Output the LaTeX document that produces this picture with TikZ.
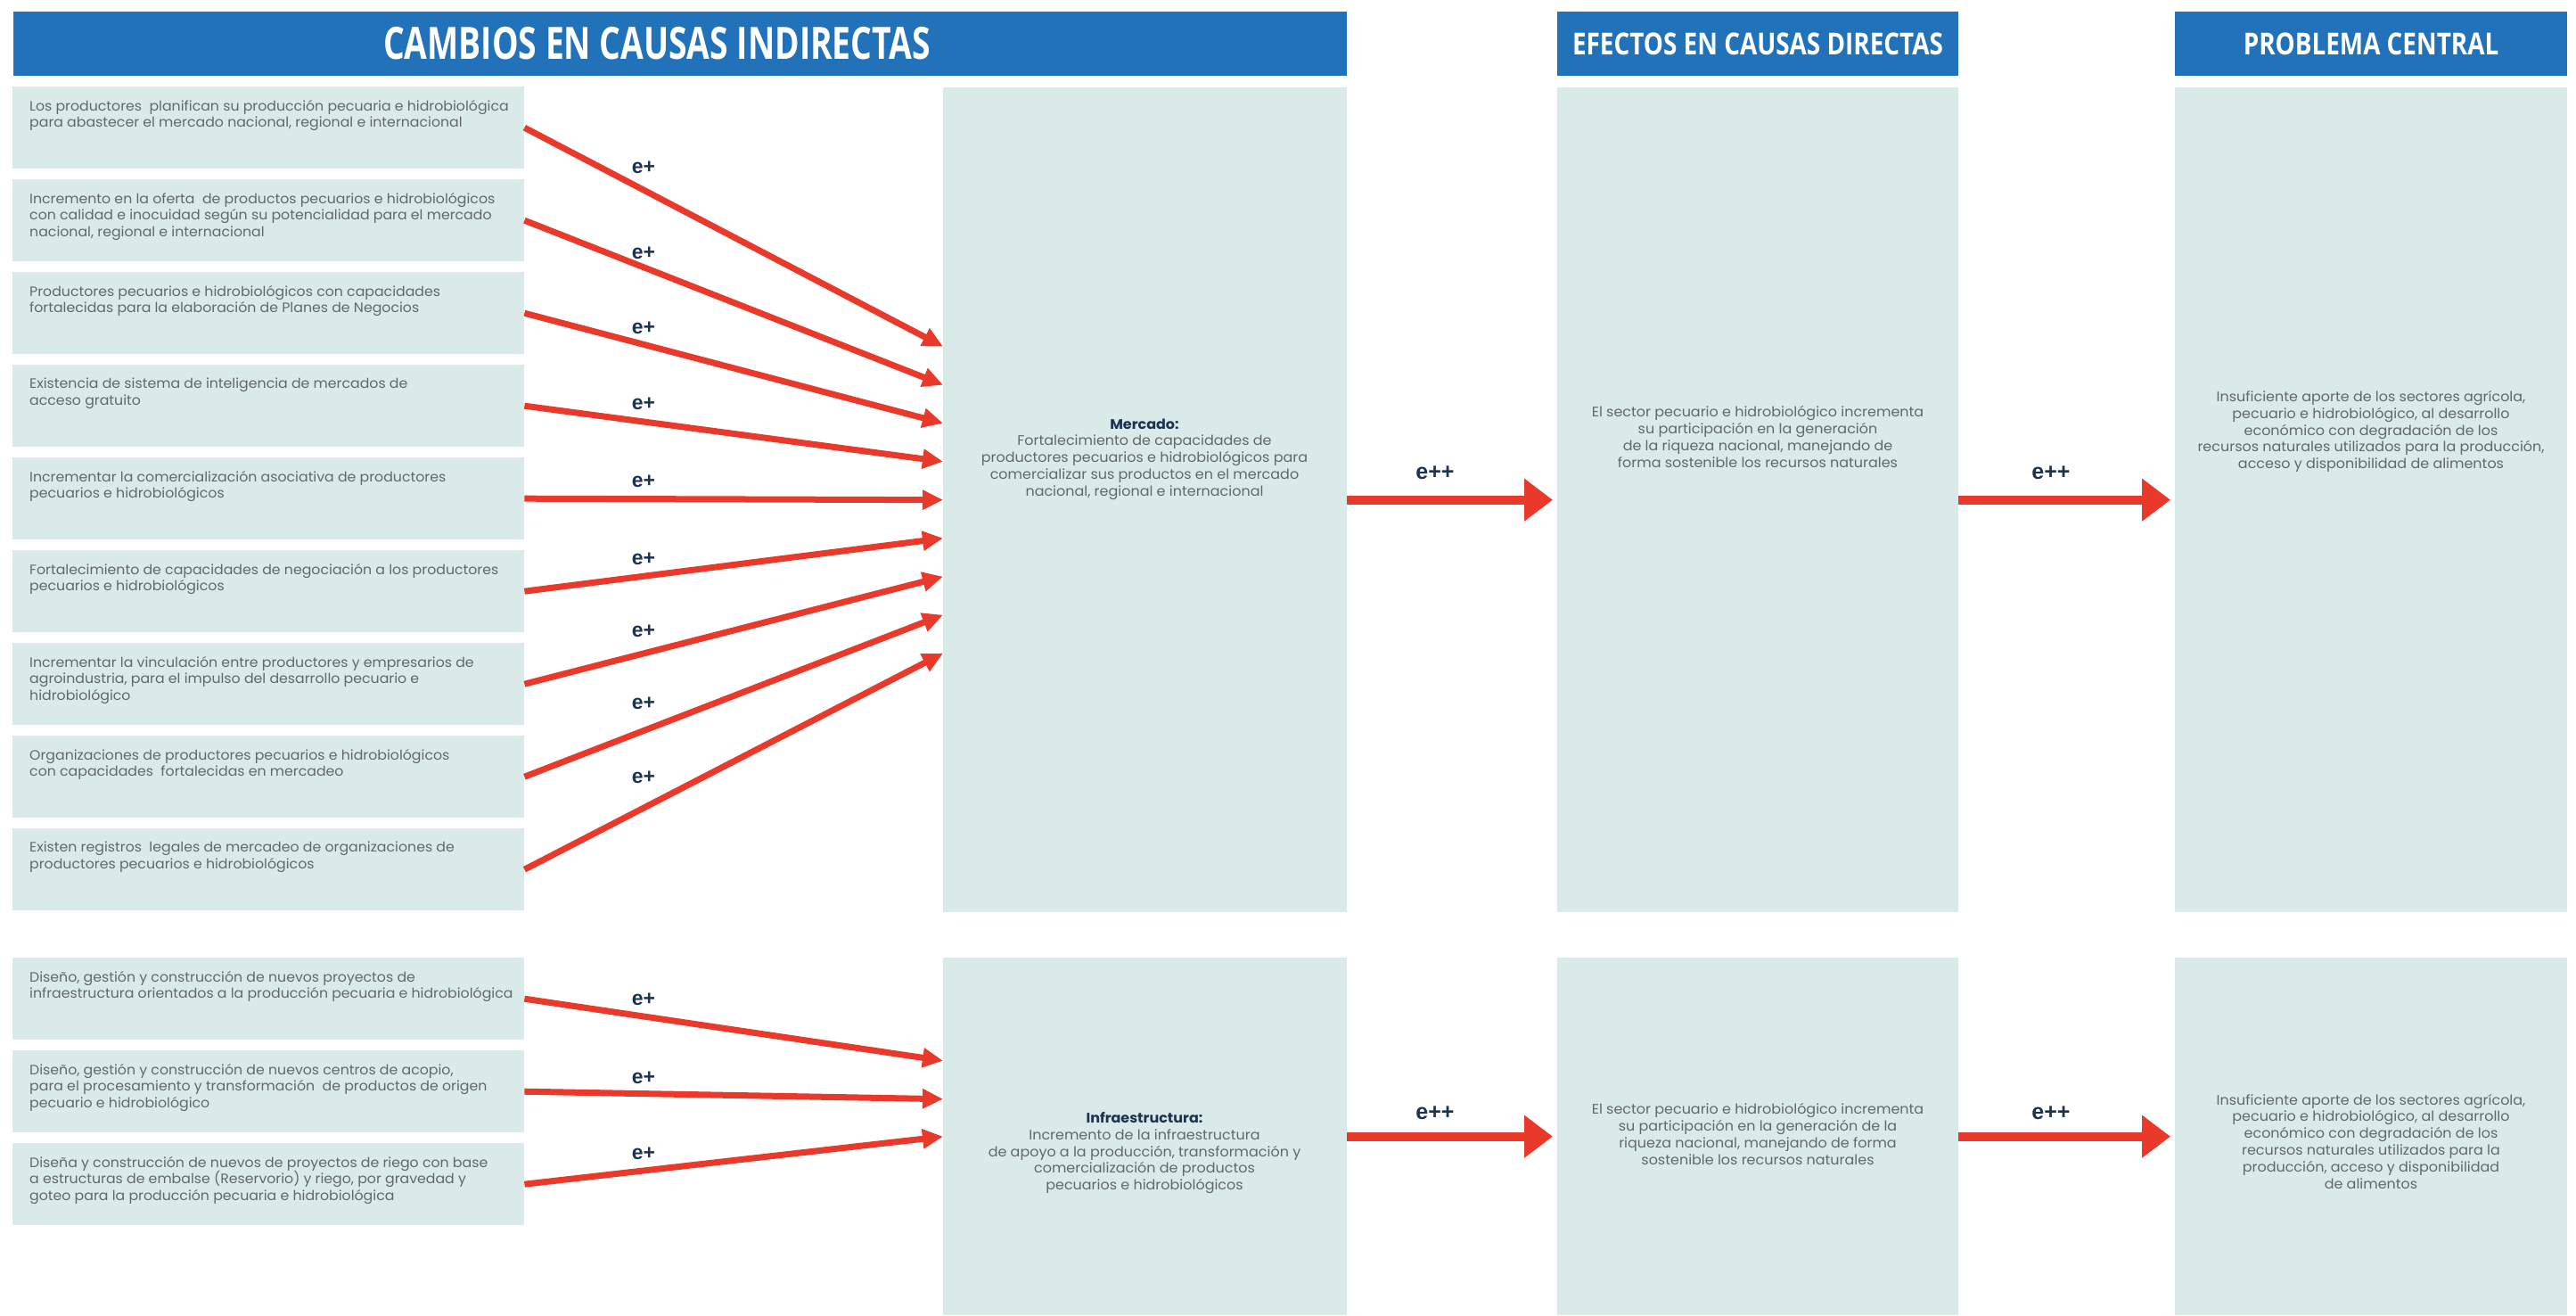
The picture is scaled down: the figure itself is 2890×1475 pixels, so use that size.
\documentclass[tikz,border=0pt]{standalone}
\usepackage{fontspec}
\setmainfont[FakeStretch=1.03]{Poppins}
\newfontfamily\hdrfont[FakeStretch=0.745]{Open Sans}
\newfontfamily\hdrfontb[FakeStretch=0.82]{Open Sans}
\newfontfamily\labfont{Liberation Sans}
\usetikzlibrary{arrows.meta}
\definecolor{hdrblue}{HTML}{2272B9}
\definecolor{boxfill}{HTML}{D9EAE9}
\definecolor{arrred}{HTML}{E8392B}
\definecolor{txtgray}{HTML}{62686C}
\definecolor{navy}{HTML}{1E3350}
\begin{document}
\begin{tikzpicture}[x=1pt,y=-1pt,
  hdrbar/.style={fill=hdrblue, inner sep=0pt, text=white},
  cbox/.style={fill=boxfill, inner sep=0pt, anchor=north west},
  lbox/.style={cbox, minimum width=574pt, minimum height=92pt},
  colbox/.style={cbox, minimum width=453pt},
  ltext/.style={anchor=north west, inner sep=0pt, align=left, text=txtgray,
     font=\fontsize{15.3}{18.5}\selectfont},
  ctext/.style={inner sep=0pt, align=center, text=txtgray,
     font=\fontsize{15.5}{18.8}\selectfont},
  earrow/.style={draw=arrred, line width=7pt, -{Triangle[length=23pt,width=21pt]}},
  bigarrow/.style={draw=arrred, line width=10pt, -{Triangle[length=32pt,width=46pt]}},
  elab/.style={inner sep=0pt, text=navy, font=\labfont\bfseries\fontsize{23}{26}\selectfont},
  elabb/.style={inner sep=0pt, text=navy, font=\labfont\bfseries\fontsize{25}{28}\selectfont}
]
\useasboundingbox (0,0) rectangle (2890,1475);
\fill[white] (0,0) rectangle (2890,1475);

% headers
\node[hdrbar, minimum width=1496pt, minimum height=72pt] (h1) at (763,49) {};
\node[text=white, inner sep=0pt, font=\hdrfont\bfseries\fontsize{50}{54}\selectfont] (h1t) at (737,49) {CAMBIOS EN CAUSAS INDIRECTAS};
\node[hdrbar, minimum width=450pt, minimum height=72pt, font=\hdrfontb\bfseries\fontsize{34}{38}\selectfont] (h2) at (1972,49) {EFECTOS EN CAUSAS DIRECTAS};
\node[hdrbar, minimum width=440pt, minimum height=72pt, font=\hdrfontb\bfseries\fontsize{34}{38}\selectfont] (h3) at (2660,49) {PROBLEMA CENTRAL};

% left boxes (upper)
\node[lbox] (b1) at (14,97) {};
\node[lbox] (b2) at (14,201) {};
\node[lbox] (b3) at (14,305) {};
\node[lbox] (b4) at (14,409) {};
\node[lbox] (b5) at (14,513) {};
\node[lbox] (b6) at (14,617) {};
\node[lbox] (b7) at (14,721) {};
\node[lbox] (b8) at (14,825) {};
\node[lbox] (b9) at (14,929) {};
% left boxes (lower)
\node[lbox] (c1) at (14,1074) {};
\node[lbox] (c2) at (14,1178) {};
\node[lbox] (c3) at (14,1282) {};

\node[ltext] (t1) at ([xshift=19pt,yshift=-15pt]b1.north west) {Los productores\ \ planifican su producción pecuaria e hidrobiológica\\para abastecer el mercado nacional, regional e internacional};
\node[ltext] (t2) at ([xshift=19pt,yshift=-15pt]b2.north west) {Incremento en la oferta\ \ de productos pecuarios e hidrobiológicos\\con calidad e inocuidad según su potencialidad para el mercado\\nacional, regional e internacional};
\node[ltext] (t3) at ([xshift=19pt,yshift=-15pt]b3.north west) {Productores pecuarios e hidrobiológicos con capacidades\\fortalecidas para la elaboración de Planes de Negocios};
\node[ltext] (t4) at ([xshift=19pt,yshift=-15pt]b4.north west) {Existencia de sistema de inteligencia de mercados de\\acceso gratuito};
\node[ltext] (t5) at ([xshift=19pt,yshift=-15pt]b5.north west) {Incrementar la comercialización asociativa de productores\\pecuarios e hidrobiológicos};
\node[ltext] (t6) at ([xshift=19pt,yshift=-15pt]b6.north west) {Fortalecimiento de capacidades de negociación a los productores\\pecuarios e hidrobiológicos};
\node[ltext] (t7) at ([xshift=19pt,yshift=-15pt]b7.north west) {Incrementar la vinculación entre productores y empresarios de\\agroindustria, para el impulso del desarrollo pecuario e\\hidrobiológico};
\node[ltext] (t8) at ([xshift=19pt,yshift=-15pt]b8.north west) {Organizaciones de productores pecuarios e hidrobiológicos\\con capacidades\ \ fortalecidas en mercadeo};
\node[ltext] (t9) at ([xshift=19pt,yshift=-15pt]b9.north west) {Existen registros\ \ legales de mercadeo de organizaciones de\\productores pecuarios e hidrobiológicos};
\node[ltext] (u1) at ([xshift=19pt,yshift=-15pt]c1.north west) {Diseño, gestión y construcción de nuevos proyectos de\\infraestructura orientados a la producción pecuaria e hidrobiológica};
\node[ltext] (u2) at ([xshift=19pt,yshift=-15pt]c2.north west) {Diseño, gestión y construcción de nuevos centros de acopio,\\para el procesamiento y transformación\ \ de productos de origen\\pecuario e hidrobiológico};
\node[ltext] (u3) at ([xshift=19pt,yshift=-15pt]c3.north west) {Diseña y construcción de nuevos de proyectos de riego con base\\a estructuras de embalse (Reservorio) y riego, por gravedad y\\goteo para la producción pecuaria e hidrobiológica};

% column boxes
\node[colbox, minimum height=925pt] (m1) at (1058,98) {};
\node[colbox, minimum height=401pt] (m2) at (1058,1074) {};
\node[cbox, minimum width=450pt, minimum height=925pt] (e1) at (1747,98) {};
\node[cbox, minimum width=450pt, minimum height=401pt] (e2) at (1747,1074) {};
\node[cbox, minimum width=440pt, minimum height=925pt] (p1) at (2440,98) {};
\node[cbox, minimum width=440pt, minimum height=401pt] (p2) at (2440,1074) {};

\node[ctext] (mt1) at (1284,515) {{\color{navy}\bfseries Mercado:}\\Fortalecimiento de capacidades de\\productores pecuarios e hidrobiológicos para\\comercializar sus productos en el mercado\\nacional, regional e internacional};
\node[ctext] (mt2) at (1284,1293) {{\color{navy}\bfseries Infraestructura:}\\Incremento de la infraestructura\\de apoyo a la producción, transformación y\\comercialización de productos\\pecuarios e hidrobiológicos};
\node[ctext] (et1) at (1972,490) {El sector pecuario e hidrobiológico incrementa\\su participación en la generación\\de la riqueza nacional, manejando de\\forma sostenible los recursos naturales};
\node[ctext] (et2) at (1972,1272) {El sector pecuario e hidrobiológico incrementa\\su participación en la generación de la\\riqueza nacional, manejando de forma\\sostenible los recursos naturales};
\node[ctext] (pt1) at (2660,484) {Insuficiente aporte de los sectores agrícola,\\pecuario e hidrobiológico, al desarrollo\\económico con degradación de los\\recursos naturales utilizados para la producción,\\acceso y disponibilidad de alimentos};
\node[ctext] (pt2) at (2660,1280) {Insuficiente aporte de los sectores agrícola,\\pecuario e hidrobiológico, al desarrollo\\económico con degradación de los\\recursos naturales utilizados para la\\producción, acceso y disponibilidad\\de alimentos};

% e+ arrows upper
\draw[earrow] (b1.east) -- ([yshift=172pt]m1.west);
\draw[earrow] (b2.east) -- ([yshift=129pt]m1.west);
\draw[earrow] (b3.east) -- ([yshift=86pt]m1.west);
\draw[earrow] (b4.east) -- ([yshift=43pt]m1.west);
\draw[earrow] (b5.east) -- (m1.west);
\draw[earrow] (b6.east) -- ([yshift=-43pt]m1.west);
\draw[earrow] (b7.east) -- ([yshift=-86pt]m1.west);
\draw[earrow] (b8.east) -- ([yshift=-129pt]m1.west);
\draw[earrow] (b9.east) -- ([yshift=-172pt]m1.west);
% e+ arrows lower
\draw[earrow] (c1.east) -- ([yshift=85pt]m2.west);
\draw[earrow] (c2.east) -- ([yshift=42pt]m2.west);
\draw[earrow] (c3.east) -- (m2.west);

% e+ labels
\node[elab] (l1) at (722,188) {e+};
\node[elab] (l2) at (722,284) {e+};
\node[elab] (l3) at (722,368) {e+};
\node[elab] (l4) at (722,453) {e+};
\node[elab] (l5) at (722,540) {e+};
\node[elab] (l6) at (722,627) {e+};
\node[elab] (l7) at (722,708) {e+};
\node[elab] (l8) at (722,789) {e+};
\node[elab] (l9) at (722,872) {e+};
\node[elab] (k1) at (722,1121) {e+};
\node[elab] (k2) at (722,1209) {e+};
\node[elab] (k3) at (722,1294) {e+};

% e++ arrows
\draw[bigarrow] (m1.east) -- ([xshift=-5pt]e1.west);
\draw[bigarrow] (e1.east) -- ([xshift=-5pt]p1.west);
\draw[bigarrow] (m2.east) -- ([xshift=-5pt]e2.west);
\draw[bigarrow] (e2.east) -- ([xshift=-5pt]p2.west);
\node[elabb] (q1) at (1610,530) {e++};
\node[elabb] (q2) at (2301,530) {e++};
\node[elabb] (q3) at (1610,1248) {e++};
\node[elabb] (q4) at (2301,1248) {e++};
\end{tikzpicture}
\end{document}
